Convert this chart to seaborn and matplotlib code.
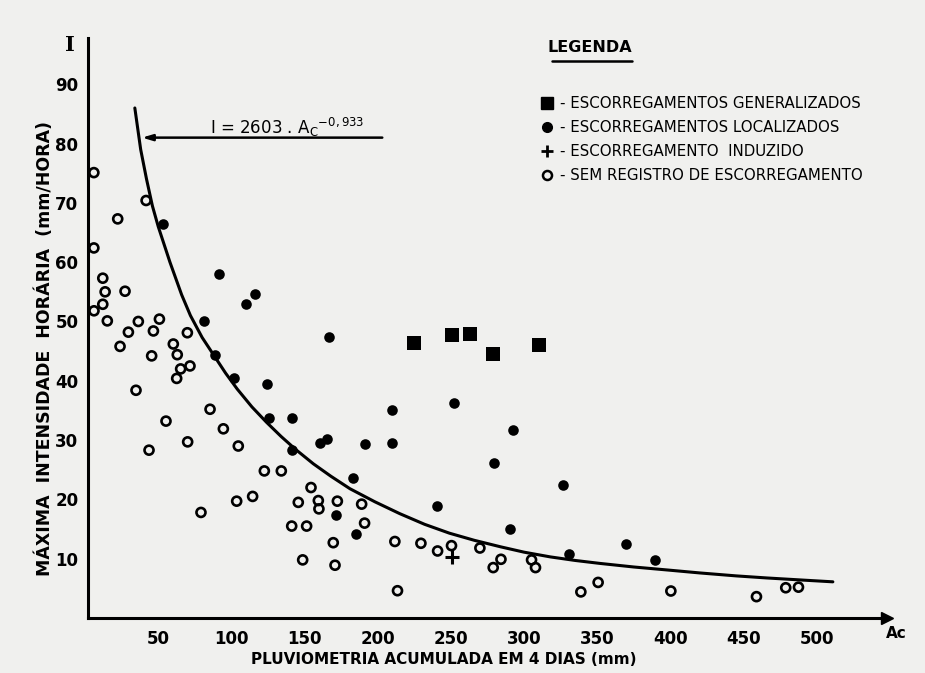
import matplotlib
matplotlib.use("Agg")
import matplotlib.pyplot as plt
from matplotlib.lines import Line2D
import seaborn as sns
import pandas as pd

sns.set_theme(style="white")
plt.rcParams['font.family'] = ['DejaVu Sans']

# ---------------- data ----------------
gen_A = [225, 251, 263, 279, 310]
gen_I = [46.3, 47.7, 47.9, 44.5, 46.0]

loc_A = [53.5, 91.8, 116.1, 109.8, 81.5, 88.8, 101.8, 124.5, 125.9, 141.6, 141.6,
         160.5, 165.5, 166.7, 209.5, 252, 191.3, 209.5, 292.6, 279.6, 182.8, 326.7,
         240.6, 171.4, 290.3, 185.1, 330.8, 369.5, 389.8]
loc_I = [66.4, 58.0, 54.6, 52.9, 50.1, 44.4, 40.4, 39.5, 33.7, 33.7, 28.4,
         29.5, 30.2, 47.4, 35.0, 36.2, 29.3, 29.5, 31.7, 26.1, 23.6, 22.5,
         18.9, 17.3, 15.0, 14.1, 10.8, 12.4, 9.8]

ind_A = [250.4]
ind_I = [10.3]

sem_A = [6, 41.7, 22.3, 6, 12.1, 13.7, 27.3, 12.1, 6.1, 15.2, 36.4, 50.8, 29.6, 46.7,
         69.9, 23.9, 60.3, 45.5, 63.0, 71.7, 65.3, 62.6, 34.8, 85.4, 55.3, 94.5, 70.1,
         104.7, 43.7, 122.5, 134.1, 154.4, 103.6, 114.5, 145.7, 159.4, 159.8, 79.2,
         141.2, 151.4, 148.7, 172.4, 189, 191, 169.6, 211.7, 229.5, 240.9, 250.4,
         269.8, 284.2, 278.9, 305.1, 307.8, 170.8, 213.5, 338.8, 350.6, 400.3, 458.8,
         478.8, 487.5]
sem_I = [75.1, 70.4, 67.3, 62.4, 57.3, 55.0, 55.1, 52.9, 51.8, 50.1, 50.0, 50.4, 48.2, 48.4,
         48.1, 45.8, 46.2, 44.2, 44.4, 42.5, 42.0, 40.4, 38.4, 35.2, 33.2, 31.9, 29.7,
         29.0, 28.3, 24.8, 24.8, 22.0, 19.7, 20.5, 19.5, 19.8, 18.4, 17.8,
         15.5, 15.5, 9.8, 19.7, 19.2, 16.0, 12.7, 12.9, 12.6, 11.3, 12.2,
         11.8, 9.9, 8.5, 9.8, 8.5, 8.9, 4.6, 4.4, 6.0, 4.55, 3.6,
         5.1, 5.2]

# drawn curve I = 2603 . Ac^-0.933 (traced along the line on the figure)
curve_A = [34, 38, 42, 46, 50, 58, 66, 72, 80, 88, 96, 104, 114, 124, 134, 144, 156,
           168, 181, 198, 215, 232, 249, 266, 284, 300, 318, 335, 352, 375, 400, 420,
           445, 466, 490, 511]
curve_I = [86.0, 79.0, 74.0, 69.5, 66.0, 60.0, 54.5, 51.0, 47.3, 44.3, 41.3, 38.6, 35.6,
           33.0, 30.6, 28.4, 26.0, 23.9, 21.8, 19.6, 17.6, 15.8, 14.3, 13.1, 12.0, 11.1,
           10.3, 9.7, 9.2, 8.6, 8.05, 7.6, 7.1, 6.75, 6.4, 6.1]

x_ticks = [50, 100, 150, 200, 250, 300, 350, 400, 450, 500]
y_ticks = [10, 20, 30, 40, 50, 60, 70, 80, 90]

labels = ["- ESCORREGAMENTOS GENERALIZADOS",
          "- ESCORREGAMENTOS LOCALIZADOS",
          "- ESCORREGAMENTO  INDUZIDO",
          "- SEM REGISTRO DE ESCORREGAMENTO"]

BG = '#f0f0ee'
W, H = 925, 673

fig = plt.figure(figsize=(W / 100, H / 100), dpi=100, facecolor=BG)
ax = fig.add_axes([88 / W, 55 / H, 799 / W, 580 / H])
ax.set_facecolor(BG)

# curve
sns.lineplot(x=curve_A, y=curve_I, sort=False, color='black', lw=2.2, ax=ax, zorder=2)

# points
sns.scatterplot(x=sem_A, y=sem_I, marker='o', s=42, facecolor='none',
                edgecolor='black', linewidth=1.9, ax=ax, zorder=3)
sns.scatterplot(x=loc_A, y=loc_I, marker='o', s=58, color='black',
                edgecolor='black', linewidth=0, ax=ax, zorder=3)
sns.scatterplot(x=gen_A, y=gen_I, marker='s', s=95, color='black',
                edgecolor='black', linewidth=0, ax=ax, zorder=3)
sns.scatterplot(x=ind_A, y=ind_I, marker='+', s=90, color='black',
                linewidth=2.2, ax=ax, zorder=3)

ax.set_xlim(2, 548)
ax.set_ylim(0, 97.8)

for s in ['top', 'right']:
    ax.spines[s].set_visible(False)
for s in ['left', 'bottom']:
    ax.spines[s].set_color('black')
    ax.spines[s].set_linewidth(2.2)

ax.plot([1], [0], marker='>', color='black', ms=9, transform=ax.transAxes, clip_on=False)

ax.set_xticks(x_ticks)
ax.set_xticklabels([str(v) for v in x_ticks])
ax.set_yticks(y_ticks)
ax.set_yticklabels([str(v) for v in y_ticks])
ax.tick_params(axis='both', direction='out', length=6, width=1.6, color='black',
               labelsize=12, labelcolor='black')
ax.tick_params(axis='x', pad=3)
ax.tick_params(axis='y', pad=1)
for lab in ax.get_xticklabels() + ax.get_yticklabels():
    lab.set_fontweight('bold')
ax.set_xlabel('')
ax.set_ylabel('')

fig.text(45 / W, 1 - 348 / H, 'MÁXIMA  INTENSIDADE  HORÁRIA  (mm/HORA)', rotation=90,
         ha='center', va='center', fontsize=12.5, fontweight='bold', color='black')
fig.text(444 / W, 1 - 660 / H, 'PLUVIOMETRIA ACUMULADA EM 4 DIAS (mm)',
         ha='center', va='center', fontsize=11, fontweight='bold', color='black')
fig.text(70 / W, 1 - 45 / H, 'I', ha='center', va='center', fontsize=15,
         fontweight='bold', family='DejaVu Serif', color='black')
fig.text(896 / W, 1 - 634 / H, 'Ac', ha='center', va='center', fontsize=11,
         fontweight='bold', color='black')

# equation annotation with leader line
ax.annotate('', xy=(37, 81), xytext=(205, 81),
            arrowprops=dict(arrowstyle='-|>,head_length=0.5,head_width=0.15',
                            color='black', lw=1.8))
fig.text(210 / W, 1 - 127 / H, r'I = 2603 . A$_\mathrm{C}$$^{-0,933}$',
         ha='left', va='center', fontsize=12, color='black')

# legend
fig.text(590 / W, 1 - 47 / H, 'LEGENDA', ha='center', va='center', fontsize=11.5,
         fontweight='bold', color='black')
fig.add_artist(Line2D([552 / W, 632 / W], [1 - 61 / H, 1 - 61 / H], color='black', lw=1.8))

handles = [
    Line2D([], [], ls='none', marker='s', ms=8, color='black'),
    Line2D([], [], ls='none', marker='o', ms=7, color='black'),
    Line2D([], [], ls='none', marker='+', ms=9, mew=2, color='black'),
    Line2D([], [], ls='none', marker='o', ms=6.5, mfc='none', mec='black', mew=1.8),
]
leg = fig.legend(handles, labels, loc='upper left', bbox_to_anchor=(540 / W, 1 - 96 / H),
                 frameon=False, fontsize=10.8, handlelength=0.9, handletextpad=0.4,
                 labelspacing=0.6, borderpad=0, borderaxespad=0)
for t in leg.get_texts():
    t.set_color('black')

fig.savefig('out.png', dpi=100, facecolor=BG)
